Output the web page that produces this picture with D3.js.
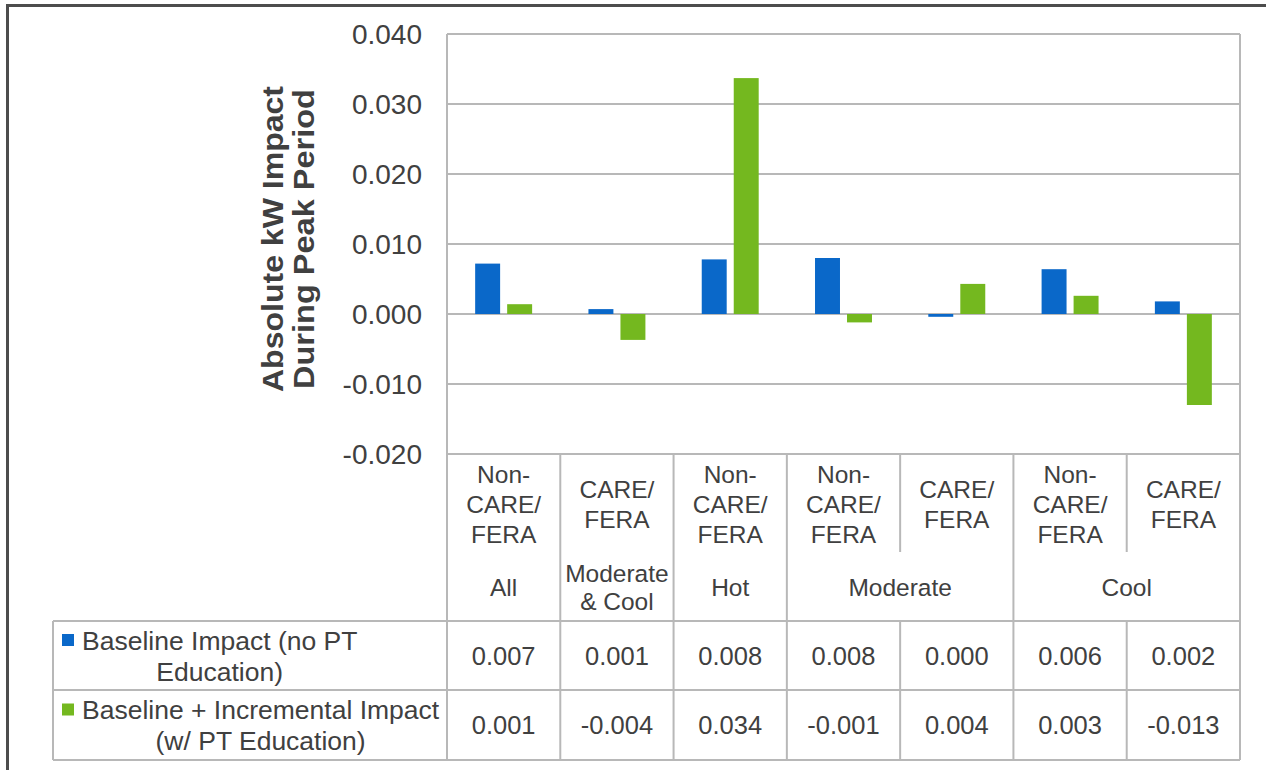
<!DOCTYPE html>
<html><head><meta charset="utf-8">
<script src="https://cdn.jsdelivr.net/npm/d3@7"></script>
<style>
html,body{margin:0;padding:0;background:#fff;}
svg{display:block;}
text{font-family:"Liberation Sans",Arial,sans-serif;fill:#404040;}
</style></head>
<body>
<svg id="chart" width="1266" height="770"></svg>
<script>
// ---- data ----
const subCategories = ["Non-|CARE/|FERA","CARE/|FERA","Non-|CARE/|FERA","Non-|CARE/|FERA","CARE/|FERA","Non-|CARE/|FERA","CARE/|FERA"];
const groups = ["All","Moderate|& Cool","Hot","Moderate","Cool"];
const groupSpans = [1,1,1,2,2];
const seriesNames = ["Baseline Impact (no PT|Education)","Baseline + Incremental Impact|(w/ PT Education)"];
const baseline = [0.0072, 0.0007, 0.0078, 0.0080, -0.0004, 0.0064, 0.0018];
const withEducation = [0.0014, -0.0037, 0.0337, -0.0012, 0.0043, 0.0026, -0.0130];
const yTicks = [-0.020, -0.010, 0.000, 0.010, 0.020, 0.030, 0.040];
const yTitle = ["Absolute kW Impact","During Peak Period"];
const colors = ["#0a68c9","#74b81f"];

// ---- layout ----
const svg = d3.select("#chart");
const L = 447, R = 1240, T = 34, B = 454;
const headerBottom = 621, row1Bottom = 690, tableBottom = 760, tableLeft = 53;
const gridColor = "#b8b8b8";

const idx = d3.range(subCategories.length);
const x0 = d3.scaleBand().domain(idx).range([L, R]).padding(0);
const x1 = d3.scaleBand().domain([0,1]).range([0, x0.bandwidth()]).paddingInner(0.22).paddingOuter(0.88);
const y = d3.scaleLinear().domain([-0.02, 0.04]).range([B, T]);

// outer frame
svg.append("line").attr("x1",6).attr("x2",1266).attr("y1",5.5).attr("y2",5.5).attr("stroke","#4d4d4d").attr("stroke-width",3);
svg.append("line").attr("x1",7.5).attr("x2",7.5).attr("y1",4).attr("y2",770).attr("stroke","#4d4d4d").attr("stroke-width",3);

// gridlines
svg.append("g").selectAll("line").data(yTicks).join("line")
  .attr("x1", L).attr("x2", R).attr("y1", d=>y(d)).attr("y2", d=>y(d))
  .attr("stroke", gridColor).attr("stroke-width", 2);

// y axis labels
const fmtTick = d3.format(".3f");
svg.append("g").selectAll("text").data(yTicks).join("text")
  .attr("x", 422).attr("y", d=>y(d)).attr("dy","0.36em")
  .attr("text-anchor","end").style("font-size","28px")
  .text(d => fmtTick(d).replace("−","-"));

// y title
const yt = svg.append("g").attr("transform","rotate(-90)");
yt.selectAll("text").data(yTitle).join("text")
  .attr("x", -239).attr("y", (d,i)=> 283 + i*31)
  .attr("text-anchor","middle").style("font-size","30px").style("font-weight","bold")
  .attr("textLength", (d,i)=> i===0 ? 306 : 300).attr("lengthAdjust","spacingAndGlyphs")
  .text(d=>d);

// bars
const seriesData = [baseline, withEducation];
seriesData.forEach((vals, s) => {
  svg.append("g").selectAll("rect").data(vals).join("rect")
    .attr("x", (d,i)=> x0(i) + x1(s))
    .attr("width", x1.bandwidth())
    .attr("y", d => y(Math.max(0,d)))
    .attr("height", d => Math.abs(y(d) - y(0)))
    .attr("fill", colors[s]);
});

// table lines
const lines = svg.append("g").attr("stroke", gridColor).attr("stroke-width", 2);
lines.append("line").attr("x1",L).attr("x2",L).attr("y1",T).attr("y2",tableBottom);
lines.append("line").attr("x1",R).attr("x2",R).attr("y1",T).attr("y2",tableBottom);
lines.append("line").attr("x1",tableLeft).attr("x2",tableLeft).attr("y1",headerBottom).attr("y2",tableBottom);
[headerBottom,row1Bottom,tableBottom].forEach(yy=>{
  lines.append("line").attr("x1",tableLeft).attr("x2",R).attr("y1",yy).attr("y2",yy);
});
const groupStarts = [];
let acc = 0;
groupSpans.forEach(s=>{groupStarts.push(acc); acc+=s;});
idx.slice(1).forEach(i=>{
  const xx = x0(i);
  if (groupStarts.includes(i)) {
    lines.append("line").attr("x1",xx).attr("x2",xx).attr("y1",B).attr("y2",tableBottom);
  } else {
    lines.append("line").attr("x1",xx).attr("x2",xx).attr("y1",B).attr("y2",552);
    lines.append("line").attr("x1",xx).attr("x2",xx).attr("y1",headerBottom).attr("y2",tableBottom);
  }
});

// sub-category labels
const lh = 30;
subCategories.forEach((lab,i)=>{
  const parts = lab.split("|");
  const cx = x0(i) + x0.bandwidth()/2;
  parts.forEach((p,j)=>{
    svg.append("text").attr("x",cx).attr("y", 504 + (j-(parts.length-1)/2)*lh).attr("dy","0.36em")
      .attr("text-anchor","middle").style("font-size","24.5px").text(p);
  });
});
// group labels
groups.forEach((g,k)=>{
  const start = groupStarts[k], span = groupSpans[k];
  const cx = x0(start) + span*x0.bandwidth()/2;
  const parts = g.split("|");
  parts.forEach((p,j)=>{
    svg.append("text").attr("x",cx).attr("y", 587 + (j-(parts.length-1)/2)*28).attr("dy","0.36em")
      .attr("text-anchor","middle").style("font-size","24.5px").text(p);
  });
});

// legend / table rows
const fmt = v => { const r = Math.abs(v) < 0.0005 ? 0 : v; return d3.format(".3f")(r).replace("−","-"); };
const rowCenters = [(headerBottom+row1Bottom)/2, (row1Bottom+tableBottom)/2];
seriesNames.forEach((name,s)=>{
  const cy = rowCenters[s];
  svg.append("rect").attr("x",62).attr("y",cy-15.5-6).attr("width",12).attr("height",12).attr("fill",colors[s]);
  const parts = name.split("|");
  const tg = svg.append("g");
  const texts = parts.map((p,j)=> tg.append("text").attr("y", cy + (j-0.5)*31).attr("dy","0.36em")
      .attr("text-anchor","middle").style("font-size","26.5px").text(p));
  const w = d3.max(texts, t => t.node().getComputedTextLength());
  texts.forEach(t => t.attr("x", 82 + w/2));
  seriesData[s].forEach((v,i)=>{
    svg.append("text").attr("x", x0(i)+x0.bandwidth()/2).attr("y",cy).attr("dy","0.36em")
      .attr("text-anchor","middle").style("font-size","25.5px").text(fmt(v));
  });
});
</script>
</body></html>
